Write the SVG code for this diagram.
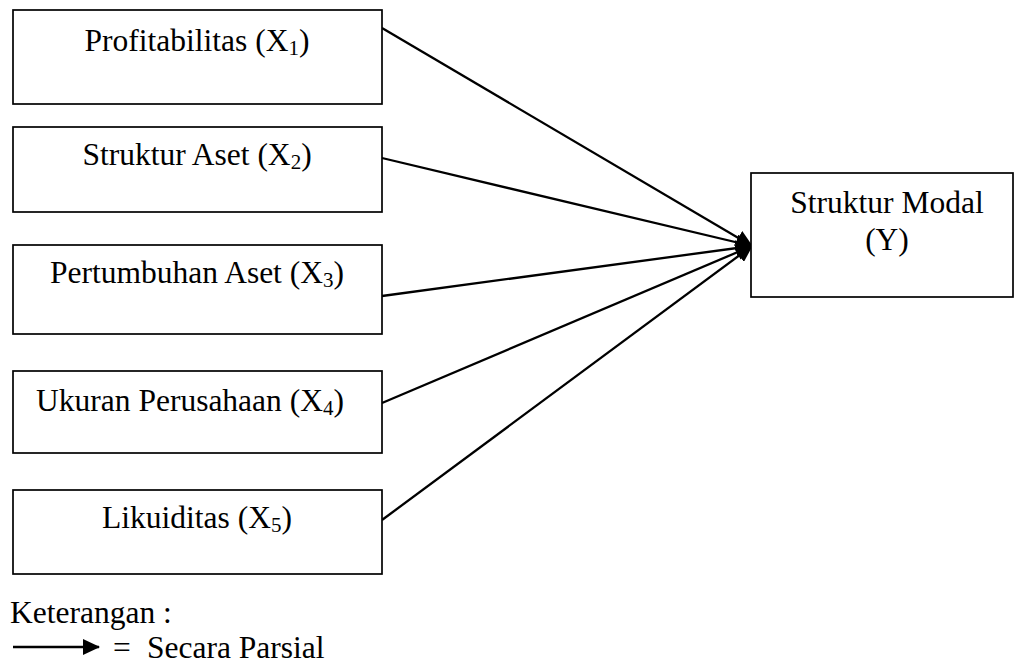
<svg xmlns="http://www.w3.org/2000/svg" width="1015" height="663" viewBox="0 0 1015 663">
<style>
.box{fill:#fff;stroke:#000;stroke-width:1.7}
.t{font-family:"Liberation Serif","Times New Roman",serif;font-size:31.5px;fill:#000}
.sub{font-size:21px}
.c{stroke:#000;stroke-width:2.3;fill:none}
</style>
<defs>
<marker id="ah" markerUnits="userSpaceOnUse" markerWidth="18" markerHeight="16" refX="16" refY="8" orient="auto">
<path d="M0,0 L17,8 L0,16 z" fill="#000"/>
</marker>
</defs>
<rect width="1015" height="663" fill="#fff"/>
<g id="connectors">
<line class="c" x1="382" y1="28" x2="752" y2="246" marker-end="url(#ah)"/>
<line class="c" x1="382" y1="158" x2="752" y2="246" marker-end="url(#ah)"/>
<line class="c" x1="382" y1="296" x2="752" y2="246" marker-end="url(#ah)"/>
<line class="c" x1="382" y1="403" x2="752" y2="246" marker-end="url(#ah)"/>
<line class="c" x1="382" y1="520" x2="752" y2="246" marker-end="url(#ah)"/>
</g>
<g id="x1"><rect class="box" x="13" y="10" width="369" height="94"/><text class="t" x="197" y="51" text-anchor="middle">Profitabilitas (X<tspan class="sub" dy="4">1</tspan><tspan dy="-4">)</tspan></text></g>
<g id="x2"><rect class="box" x="13" y="127" width="369" height="85"/><text class="t" x="197" y="165" text-anchor="middle">Struktur Aset (X<tspan class="sub" dy="4">2</tspan><tspan dy="-4">)</tspan></text></g>
<g id="x3"><rect class="box" x="13" y="245" width="369" height="89"/><text class="t" x="197" y="283" text-anchor="middle">Pertumbuhan Aset (X<tspan class="sub" dy="4">3</tspan><tspan dy="-4">)</tspan></text></g>
<g id="x4"><rect class="box" x="13" y="371" width="369" height="82"/><text class="t" x="190" y="411" text-anchor="middle">Ukuran Perusahaan (X<tspan class="sub" dy="4">4</tspan><tspan dy="-4">)</tspan></text></g>
<g id="x5"><rect class="box" x="13" y="490" width="369" height="84"/><text class="t" x="197" y="528" text-anchor="middle">Likuiditas (X<tspan class="sub" dy="4">5</tspan><tspan dy="-4">)</tspan></text></g>
<g id="y"><rect class="box" x="751" y="173" width="262" height="124"/><text class="t" x="887" y="213" text-anchor="middle">Struktur Modal</text><text class="t" x="887" y="250" text-anchor="middle">(Y)</text></g>
<g id="legend">
<text class="t" x="10" y="623">Keterangan :</text>
<line class="c" x1="13" y1="647" x2="99" y2="647" marker-end="url(#ah)"/>
<text class="t" x="113" y="658">=</text>
<text class="t" x="147" y="658">Secara Parsial</text>
</g>
</svg>
